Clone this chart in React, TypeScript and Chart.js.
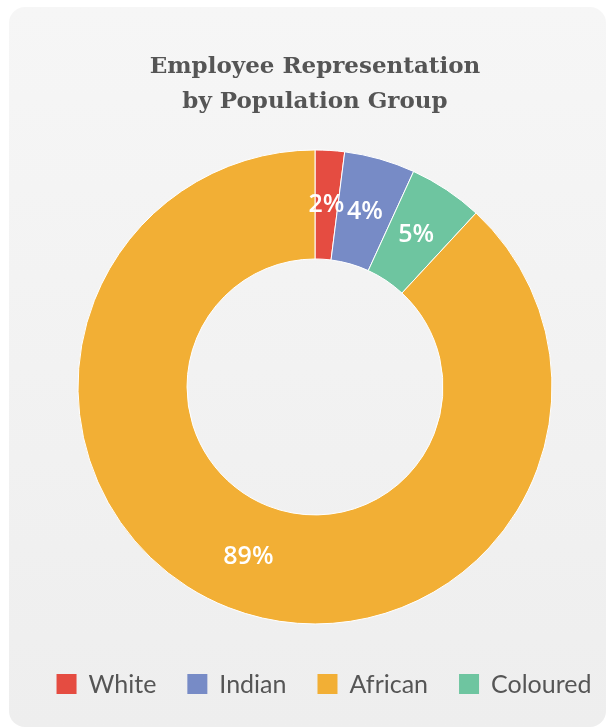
import React, { useEffect, useRef } from "react";
import { Chart, registerables } from "chart.js";

Chart.register(...registerables);

// ---- data ----
const categories = ["White", "Indian", "Coloured", "African"];
const shares = [2.0, 4.83, 5.06, 88.11];
const shareLabels = ["2%", "4%", "5%", "89%"];
const legendOrder = ["White", "Indian", "African", "Coloured"];
const sliceColors = ["#E54C41", "#778BC6", "#6EC5A0", "#F2AF35"];
const titleLines = ["Employee Representation", "by Population Group"];

const sliceLabelPlugin = {
  id: "sliceLabels",
  afterDatasetsDraw(chart: any) {
    const ctx = chart.ctx;
    const meta = chart.getDatasetMeta(0);
    ctx.save();
    ctx.font = "600 25px 'Open Sans'";
    ctx.fillStyle = "#ffffff";
    ctx.textAlign = "center";
    ctx.textBaseline = "middle";
    meta.data.forEach((arc: any, i: number) => {
      const p = arc.tooltipPosition(false);
      ctx.fillText(shareLabels[i], p.x, p.y);
    });
    ctx.restore();
  },
};

// legend row drawn under the doughnut, in the reference's order
const rowLegendPlugin = {
  id: "rowLegend",
  afterDraw(chart: any) {
    const ctx = chart.ctx;
    const box = 20;
    const gap = 12;
    const spacing = 31;
    const centerX = 315;
    const midY = 677;
    ctx.save();
    ctx.font = "25px Lato";
    ctx.textBaseline = "middle";
    ctx.textAlign = "left";
    const widths = legendOrder.map((t) => ctx.measureText(t).width);
    const total =
      widths.reduce((s, w) => s + box + gap + w, 0) + spacing * (legendOrder.length - 1);
    let x = centerX - total / 2;
    legendOrder.forEach((name, k) => {
      const idx = categories.indexOf(name);
      ctx.fillStyle = sliceColors[idx];
      ctx.fillRect(x, midY - box / 2, box, box);
      ctx.fillStyle = "#555555";
      ctx.fillText(name, x + box + gap, midY + 1);
      x += box + gap + widths[k] + spacing;
    });
    ctx.restore();
  },
};

export default function App() {
  const canvasRef = useRef<HTMLCanvasElement | null>(null);

  useEffect(() => {
    if (!canvasRef.current) return;
    const chart = new Chart(canvasRef.current, {
      type: "doughnut",
      data: {
        labels: categories,
        datasets: [
          {
            data: shares,
            backgroundColor: sliceColors,
            borderColor: "#ffffff",
            borderWidth: 1,
            radius: 237,
            cutout: "54%",
          } as any,
        ],
      },
      options: {
        responsive: false,
        maintainAspectRatio: false,
        animation: false,
        layout: { padding: { left: 15, right: 0, top: 0, bottom: 85.5 } },
        plugins: {
          title: {
            display: true,
            text: titleLines,
            color: "#555555",
            font: { family: "'DejaVu Serif'", size: 23, weight: "bold", lineHeight: 1.52 },
            padding: { top: 43, bottom: 12.5 },
          },
          legend: { display: false },
          tooltip: { enabled: false },
        },
      },
      plugins: [sliceLabelPlugin, rowLegendPlugin],
    } as any);
    return () => chart.destroy();
  }, []);

  return (
    <div
      style={{
        position: "absolute",
        left: 9,
        top: 7,
        width: 597,
        height: 720,
        borderRadius: 16,
        overflow: "hidden",
        background: "linear-gradient(#f6f6f6, #eeeeee)",
      }}
    >
      <canvas ref={canvasRef} width={597} height={720} style={{ display: "block" }} />
    </div>
  );
}
